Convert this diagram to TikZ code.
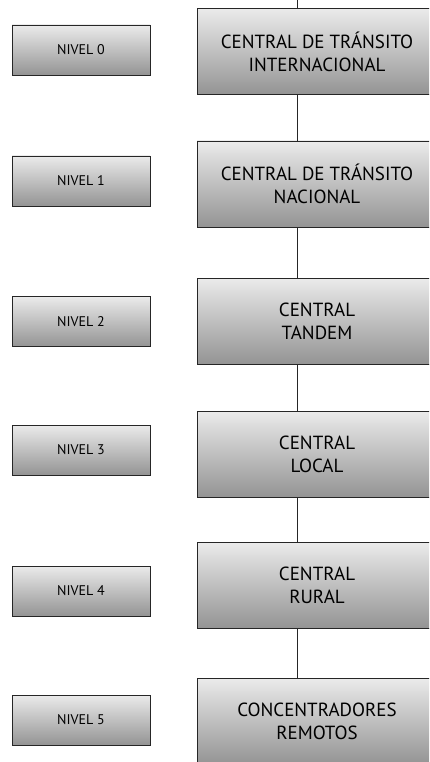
\documentclass[tikz,border=0pt]{standalone}
\usepackage{fontspec}
\setmainfont{PT Sans}
\usetikzlibrary{calc}

\tikzset{
	nivelbox/.style={draw=black!85, line width=0.9pt, rectangle, inner sep=0pt,
		minimum width=138pt, minimum height=50pt,
		top color=black!8, middle color=white, bottom color=black!42,
		font=\fontsize{14}{16}\selectfont},
	centralbox/.style={draw=black!85, line width=0.9pt, rectangle, inner sep=0pt,
		minimum width=240pt, minimum height=86pt, align=center,
		top color=black!8, middle color=white, bottom color=black!42,
		font=\fontsize{19}{23}\selectfont},
	enlace/.style={draw=black!85, line width=0.9pt}
}

\begin{document}
\begin{tikzpicture}[x=1pt, y=-1pt]
	\useasboundingbox (0, 0) rectangle (429, 762);
	\clip (0, 0) rectangle (429, 762); % boxes run past the right edge
	\fill [white] (0, 0) rectangle (429, 762);

	% niveles
	\node [nivelbox] (n0) at (81, 50) {NIVEL 0};
	\node [nivelbox] (n1) at (81, 181) {NIVEL 1};
	\node [nivelbox] (n2) at (81, 321.5) {NIVEL 2};
	\node [nivelbox] (n3) at (81, 450) {NIVEL 3};
	\node [nivelbox] (n4) at (81, 591) {NIVEL 4};
	\node [nivelbox] (n5) at (81, 720) {NIVEL 5};

	% centrales
	\node [centralbox] (c0) at (317, 51.5) {CENTRAL DE TR\'ANSITO\\INTERNACIONAL};
	\node [centralbox] (c1) at (317, 184) {CENTRAL DE TR\'ANSITO\\NACIONAL};
	\node [centralbox] (c2) at (317, 321) {CENTRAL\\TANDEM};
	\node [centralbox] (c3) at (317, 454) {CENTRAL\\LOCAL};
	\node [centralbox] (c4) at (317, 585) {CENTRAL\\RURAL};
	\node [centralbox] (c5) at (317, 721) {CONCENTRADORES\\REMOTOS};

	\coordinate (eje) at (297, 0);
	\draw [enlace] (eje) -- (eje |- c0.north);
	\draw [enlace] (eje |- c0.south) -- (eje |- c1.north);
	\draw [enlace] (eje |- c1.south) -- (eje |- c2.north);
	\draw [enlace] (eje |- c2.south) -- (eje |- c3.north);
	\draw [enlace] (eje |- c3.south) -- (eje |- c4.north);
	\draw [enlace] (eje |- c4.south) -- (eje |- c5.north);
\end{tikzpicture}
\end{document}
